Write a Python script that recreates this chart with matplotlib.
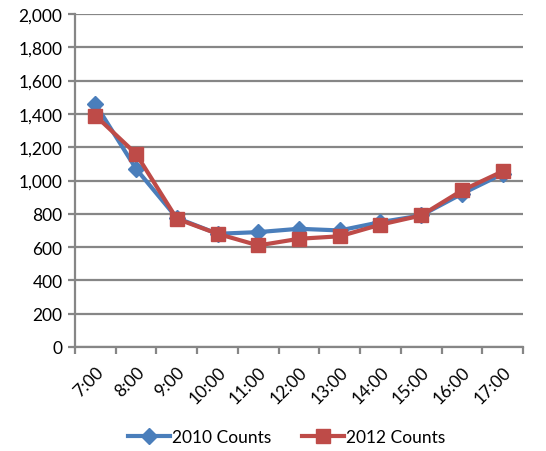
import matplotlib
matplotlib.use("Agg")
import matplotlib.pyplot as plt
import numpy as np

hours = ["7:00", "8:00", "9:00", "10:00", "11:00", "12:00", "13:00",
         "14:00", "15:00", "16:00", "17:00"]
counts_2010 = [1460, 1070, 775, 680, 690, 710, 700, 750, 790, 920, 1040]
counts_2012 = [1390, 1160, 770, 680, 610, 650, 665, 735, 790, 940, 1055]
y_ticks = [0, 200, 400, 600, 800, 1000, 1200, 1400, 1600, 1800, 2000]

plt.rcParams['font.family'] = ['Lato', 'DejaVu Sans']
fs = 12.5

fig = plt.figure(figsize=(5.46, 4.52), dpi=100)
ax = fig.add_axes([75 / 546, 1 - 348 / 452, 448 / 546, 333 / 452])

grid_color = "#868686"
x = np.arange(len(hours))
ax.plot(x, counts_2010, color="#4A7EBB", lw=3, marker="D", ms=8,
        label="2010 Counts", zorder=3)
ax.plot(x, counts_2012, color="#BE4B48", lw=3, marker="s", ms=10,
        label="2012 Counts", zorder=4)

ax.set_xlim(-0.5, len(hours) - 0.5)
ax.set_ylim(0, 2000)
ax.set_yticks(y_ticks)
ax.set_yticklabels([f"{v:,}" for v in y_ticks], fontsize=fs)
ax.yaxis.grid(True, color=grid_color, lw=1.6)
ax.set_axisbelow(True)

ax.set_xticks(x)
ax.set_xticklabels(hours, rotation=45, ha="right", rotation_mode="anchor",
                   fontsize=fs)
ax.tick_params(axis="x", length=0, pad=12)
ax.set_xticks(np.arange(-0.5, len(hours)), minor=True)
ax.tick_params(axis="x", which="minor", length=5, width=1.6, color=grid_color)
ax.tick_params(axis="y", length=5, width=1.6, color=grid_color, pad=4)

for side in ["top", "right"]:
    ax.spines[side].set_visible(False)
for side in ["left", "bottom"]:
    ax.spines[side].set_color(grid_color)
    ax.spines[side].set_linewidth(1.6)

leg = fig.legend(loc="center", bbox_to_anchor=(0.525, 1 - 438 / 452), ncol=2,
                 frameon=False, fontsize=fs, handlelength=2.4,
                 columnspacing=1.8, handletextpad=0.1)

fig.savefig("out.png", dpi=100)
